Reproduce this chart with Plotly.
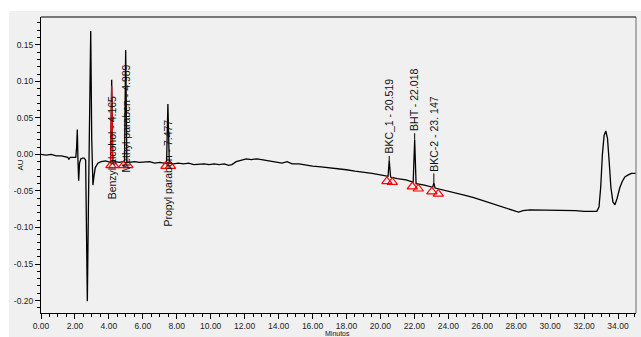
import plotly.graph_objects as go

# ---------------- data ----------------
time_min = [0.00, 0.30, 0.60, 0.90, 1.20, 1.45, 1.58, 1.64, 1.72, 1.90, 2.05, 2.10, 2.14, 2.18, 2.22, 2.27,
            2.35, 2.45, 2.55, 2.63, 2.68, 2.73, 2.80, 2.87, 2.93, 2.99, 3.06, 3.12, 3.20, 3.35, 3.55,
            3.80, 4.00, 4.10, 4.165, 4.23, 4.40, 4.60, 4.85, 4.92, 4.989, 5.06, 5.20, 5.50, 5.80,
            6.10, 6.40, 6.70, 7.00, 7.25, 7.40, 7.477, 7.56, 7.80, 8.10, 8.40, 8.70, 9.00, 9.30,
            9.60, 9.90, 10.20, 10.50, 10.80, 11.05, 11.25, 11.50, 11.80, 12.10, 12.40, 12.70, 13.00,
            13.30, 13.60, 13.90, 14.20, 14.50, 14.80, 15.20, 15.60, 16.00, 16.50, 17.00, 17.50,
            18.00, 18.50, 19.00, 19.50, 20.00, 20.45, 20.519, 20.60, 21.00, 21.50, 21.93, 22.018,
            22.10, 22.60, 23.08, 23.147, 23.22, 23.60, 24.00, 24.50, 25.00, 25.50, 26.00, 26.50,
            27.00, 27.50, 28.00, 28.15, 28.40, 28.80, 29.50, 30.00, 30.50, 31.00, 31.50, 32.00,
            32.50, 32.75, 32.88, 32.98, 33.08, 33.18, 33.28, 33.38, 33.48, 33.58, 33.70, 33.82,
            33.95, 34.10, 34.25, 34.40, 34.60, 34.80, 35.06]
au = [0.000, -0.001, 0.000, -0.002, -0.002, -0.003, -0.004, -0.007, -0.004, -0.004, -0.004, 0.010, 0.034, -0.010, -0.036, -0.012,
      -0.006, -0.005, -0.005, -0.008, -0.080, -0.201, -0.060, 0.100, 0.169, 0.020, -0.042, -0.030, -0.018, -0.012, -0.010,
      -0.009, -0.010, -0.011, 0.102, -0.011, -0.010, -0.011, -0.010, -0.010, 0.143, -0.011, -0.011, -0.010, -0.011,
      -0.011, -0.010, -0.012, -0.011, -0.012, -0.012, 0.069, -0.012, -0.013, -0.012, -0.013, -0.012, -0.014, -0.013,
      -0.013, -0.014, -0.013, -0.014, -0.013, -0.015, -0.014, -0.010, -0.008, -0.006, -0.007, -0.006, -0.007,
      -0.008, -0.009, -0.010, -0.012, -0.010, -0.013, -0.013, -0.015, -0.016, -0.017, -0.018, -0.020,
      -0.021, -0.023, -0.024, -0.026, -0.028, -0.030, -0.008, -0.031, -0.033, -0.035, -0.038, 0.020,
      -0.040, -0.042, -0.045, -0.039, -0.046, -0.048, -0.050, -0.053, -0.056, -0.059, -0.063, -0.066,
      -0.070, -0.074, -0.078, -0.079, -0.077, -0.076, -0.076, -0.077, -0.077, -0.077, -0.077, -0.078,
      -0.078, -0.078, -0.072, -0.045, 0.000, 0.026, 0.032, 0.022, -0.010, -0.045, -0.065, -0.069,
      -0.060, -0.046, -0.037, -0.031, -0.028, -0.026, -0.026]

# highlighted (red) part of the first integrated peak
red_t = [4.10, 4.165, 4.23]
red_au = [-0.011, 0.094, -0.011]

# peak names, retention times, apex heights
peak_names = ["Benzyl alcohol", "Methyl paraben", "Propyl paraben", "BKC_1", "BHT", "BKC-2"]
peak_rt = [4.165, 4.989, 7.477, 20.519, 22.018, 23.147]
peak_apex = [0.102, 0.143, 0.069, -0.008, 0.020, -0.039]

# integration start / end markers
start_t = [4.12, 4.86, 7.36, 20.38, 21.88, 23.03]
start_au = [-0.015, -0.015, -0.016, -0.037, -0.044, -0.051]
end_t = [4.30, 5.12, 7.63, 20.70, 22.23, 23.41]
end_au = [-0.015, -0.015, -0.016, -0.038, -0.047, -0.054]

x_ticks = [0, 2, 4, 6, 8, 10, 12, 14, 16, 18, 20, 22, 24, 26, 28, 30, 32, 34]
x_ticklabels = ["%.2f" % v for v in x_ticks]
y_ticks = [-0.20, -0.15, -0.10, -0.05, 0.00, 0.05, 0.10, 0.15]
y_ticklabels = ["%.2f" % v for v in y_ticks]

# ---------------- layout constants ----------------
label_bottom = [-0.064, -0.028, -0.101, -0.002, 0.029, -0.026]
FONT = "Liberation Sans, Arial, sans-serif"

fig = go.Figure()
fig.add_trace(go.Scatter(x=time_min, y=au, mode="lines",
                         line=dict(color="black", width=1.3), hoverinfo="skip"))
fig.add_trace(go.Scatter(x=red_t, y=red_au, mode="lines",
                         line=dict(color="#ff0000", width=1.2), hoverinfo="skip"))
fig.add_trace(go.Scatter(x=start_t + end_t, y=start_au + end_au, mode="markers",
                         marker=dict(symbol="triangle-up-open", size=9, color="#ff0000",
                                     line=dict(width=1.2, color="#ff0000")), hoverinfo="skip"))

for name, rt, apex, lb in zip(peak_names, peak_rt, peak_apex, label_bottom):
    fig.add_annotation(x=rt, y=lb, text=f"{name} - {rt:.3f}".replace("23.147", "23. 147"),
                       textangle=-90, showarrow=False, xanchor="center", yanchor="bottom",
                       font=dict(family=FONT, size=10.5, color="#111111"))
    if lb > apex:
        fig.add_shape(type="line", x0=rt, x1=rt, y0=apex, y1=lb,
                      line=dict(color="black", width=1))

# right border
fig.add_shape(type="line", xref="paper", yref="paper", x0=1, x1=1, y0=0, y1=1,
              line=dict(color="#808080", width=1.2))
# top border
fig.add_shape(type="line", xref="paper", yref="paper", x0=0, x1=1, y0=1, y1=1,
              line=dict(color="black", width=1.2))

fig.add_annotation(xref="paper", yref="paper", x=-0.047, y=0.5, text="AU", textangle=-90,
                   showarrow=False, font=dict(family=FONT, size=8, color="#111111"))
fig.add_annotation(xref="paper", yref="paper", x=0.499, y=-0.069, text="Minutos",
                   showarrow=False, yanchor="middle", borderpad=0,
                   font=dict(family=FONT, size=7, color="#111111"))

fig.update_layout(
    width=632, height=326,
    margin=dict(l=32, r=5, t=6, b=24),
    paper_bgcolor="#f0f0f0", plot_bgcolor="#f0f0f0",
    showlegend=False,
    font=dict(family=FONT, size=8.5, color="#222222"),
    xaxis=dict(range=[0, 35.06], tickvals=x_ticks, ticktext=x_ticklabels,
               showgrid=False, zeroline=False, showline=True, linecolor="black", linewidth=1.2,
               mirror=False, ticks="outside", ticklen=5, tickcolor="black", tickwidth=1,
               minor=dict(dtick=0.5, tick0=0, ticks="outside", ticklen=3, tickcolor="black", showgrid=False),
               tickfont=dict(family=FONT, size=8.5, color="#222222")),
    yaxis=dict(range=[-0.217, 0.188], tickvals=y_ticks, ticktext=y_ticklabels,
               showgrid=False, zeroline=False, showline=True, linecolor="black", linewidth=1.2,
               ticks="outside", ticklen=5, tickcolor="black", tickwidth=1,
               minor=dict(dtick=0.01, tick0=0, ticks="outside", ticklen=3, tickcolor="black", showgrid=False),
               tickfont=dict(family=FONT, size=8.5, color="#222222")),
)

fig.write_html("out.html",
               post_script="document.body.style.margin='11px 0 0 9px';"
                           "document.body.style.background='white';"
                           "document.body.style.overflow='hidden';")
